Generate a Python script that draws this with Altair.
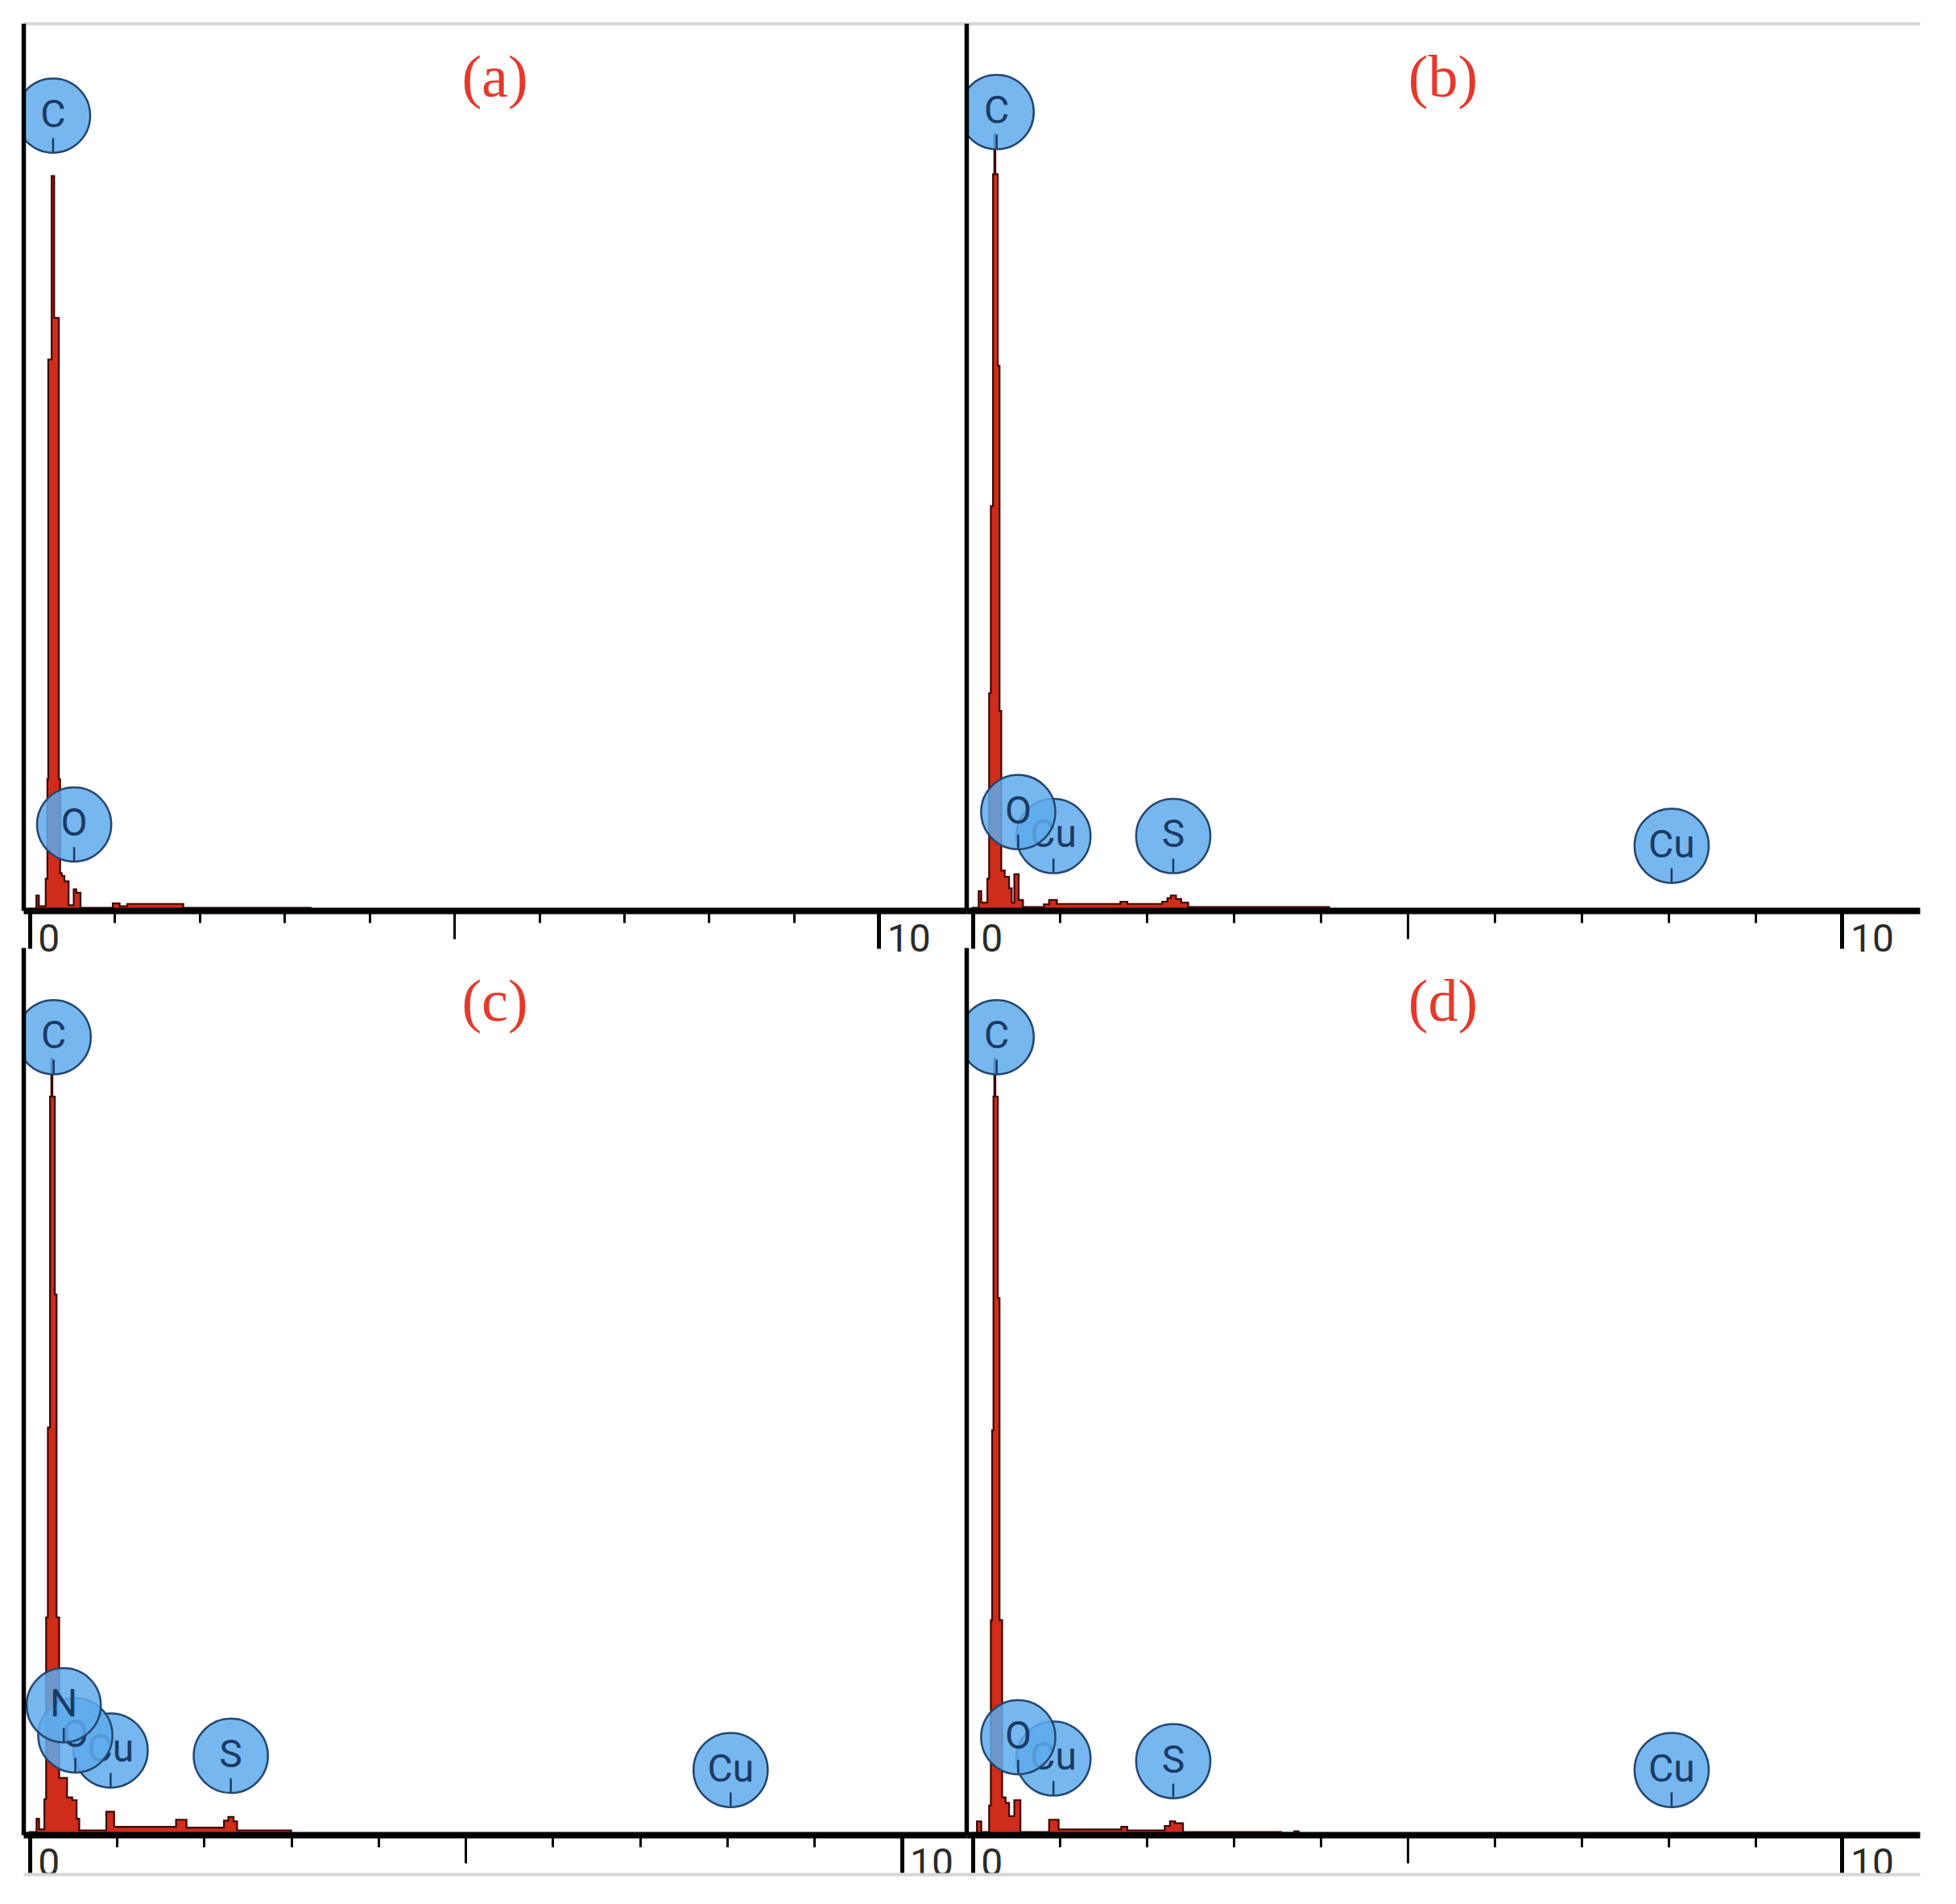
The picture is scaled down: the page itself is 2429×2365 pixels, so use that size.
import altair as alt
import pandas as pd

# ---------------- data ----------------
# spectra: left bin edge energy (keV) and counts (arbitrary, 1000 = top of panel)
A_KEV = [0.00, 0.08, 0.11, 0.19, 0.21, 0.22, 0.26, 0.29, 0.345, 0.36, 0.38, 0.41, 0.46, 0.52, 0.55, 0.60,
         0.98, 1.06, 1.15, 1.81, 3.31]
A_CNT = [2, 17, 5, 36, 148, 621, 828, 668, 148, 42, 39, 33, 6, 24, 20, 3,
         8, 5, 7.5, 3, 0]

B_KEV = [0.00, 0.07, 0.10, 0.17, 0.19, 0.21, 0.235, 0.25, 0.262, 0.29, 0.31, 0.33, 0.37, 0.42, 0.45,
         0.48, 0.53, 0.58, 0.82, 0.88, 0.97, 1.70, 1.78, 2.18, 2.24, 2.28, 2.34, 2.40, 2.48, 4.10]
B_CNT = [3, 22, 9, 36, 245, 456, 830, 875, 830, 614, 225, 45, 38, 25, 9,
         41, 12, 4, 7, 12, 7.5, 10, 7.5, 10, 14, 17, 13, 9, 4, 0]

C_KEV = [0.00, 0.08, 0.11, 0.17, 0.19, 0.21, 0.235, 0.25, 0.262, 0.29, 0.31, 0.34, 0.43, 0.49, 0.54,
         0.57, 0.88, 0.97, 1.68, 1.80, 2.23, 2.28, 2.34, 2.38, 3.00]
C_CNT = [3, 18, 6, 40, 245, 459, 832, 875, 832, 609, 245, 64, 42, 39, 18,
         5, 26, 9, 17, 8, 16, 20, 15, 5, 0]

D_KEV = [0.00, 0.05, 0.10, 0.19, 0.21, 0.225, 0.24, 0.25, 0.262, 0.29, 0.31, 0.34, 0.38, 0.42, 0.48,
         0.55, 0.88, 0.99, 1.71, 1.78, 2.21, 2.27, 2.33, 2.42, 3.55, 3.70, 3.75]
D_CNT = [2, 15, 3, 33, 242, 456, 832, 875, 832, 605, 242, 42, 36, 21, 39,
         3, 17, 6, 9, 5, 10, 15, 13, 3, 2, 4, 0]

# element markers: label, line energy (keV), marker height (counts)
A_EL = ["C", "O"]
A_EL_KEV = [0.277, 0.525]
A_EL_POS = [896, 97]

B_EL = ["C", "O", "Cu", "S", "Cu"]
B_EL_KEV = [0.277, 0.525, 0.930, 2.308, 8.040]
B_EL_POS = [900, 111, 84, 84, 73]

C_EL = ["C", "N", "O", "Cu", "S", "Cu"]
C_EL_KEV = [0.277, 0.392, 0.525, 0.930, 2.308, 8.040]
C_EL_POS = [899, 146, 112, 95, 89, 73]

D_EL = ["C", "O", "Cu", "S", "Cu"]
D_EL_KEV = [0.277, 0.525, 0.930, 2.308, 8.040]
D_EL_POS = [899, 110, 86, 83, 73]

PANEL_LABELS = ["(a)", "(b)", "(c)", "(d)"]
X_DOMAINS = [[-0.073, 11.03], [-0.072, 10.894], [-0.071, 10.743], [-0.072, 10.894]]
TICK_VALUES = list(range(11))

# ---------------- styling ----------------
W_LEFT, W_RIGHT, H = 1171, 1184, 1102
RED = "#cf2c1a"
BLUE = "#5eaaec"
NAVY = "#1b3a63"

Y_AXIS = alt.Axis(title=None, grid=False, ticks=False, labels=False,
                  domainColor="black", domainWidth=5.5, zindex=1)


def main_x_axis():
    return alt.Axis(
        values=TICK_VALUES, orient="bottom", title=None, grid=False, zindex=1,
        domainColor="black", domainWidth=8,
        tickColor="black",
        tickSize={"condition": [{"test": "datum.value == 0 || datum.value == 10", "value": 47},
                                {"test": "datum.value == 5", "value": 35}], "value": 15},
        tickWidth={"condition": [{"test": "datum.value == 0 || datum.value == 10", "value": 5}],
                   "value": 3},
        labelExpr="datum.value == 0 || datum.value == 10 ? datum.label : ''",
        labelAlign="left", labelBaseline="top", labelOffset=10, labelPadding=-35,
        labelFont="Roboto", labelFontSize=48, labelColor="#2a2a2a",
        labelOverlap=False, labelFlush=False,
    )


def frame_axis(top):
    if top:
        return alt.Axis(orient="top", title=None, grid=False, ticks=False, labels=False,
                        domainColor="#d6d6d6", domainWidth=4, zindex=1)
    return alt.Axis(orient="bottom", offset=49, title=None, grid=False, ticks=False, labels=False,
                    domainColor="#d6d6d6", domainWidth=4, zindex=1)


def panel(label, kev, cnt, els, el_kev, el_pos, xdom, width, top):
    spec_df = pd.DataFrame({"keV": kev, "counts": cnt})
    el_df = pd.DataFrame({"el": els, "keV": el_kev, "counts": el_pos, "idx": list(range(len(els)))})
    lab_df = pd.DataFrame({"t": [label]})
    xs = alt.Scale(domain=xdom, nice=False, zero=False)
    ys = alt.Scale(domain=[0, 1000], nice=False)

    spectrum = alt.Chart(spec_df).mark_area(
        interpolate="step-after", fill=RED, stroke="#3d0701", strokeWidth=2.2, clip=True
    ).encode(
        x=alt.X("keV:Q", scale=xs, axis=main_x_axis()),
        y=alt.Y("counts:Q", scale=ys, stack=None, axis=Y_AXIS),
    )
    frame = alt.Chart(spec_df).mark_point(opacity=0).encode(
        x=alt.X("keV:Q", scale=xs, axis=frame_axis(top)),
        y=alt.Y("counts:Q", scale=ys, axis=Y_AXIS),
    )
    layers = [spectrum, frame]
    base = alt.Chart(el_df)
    for i in reversed(range(len(els))):
        sub = base.transform_filter(alt.datum.idx == i)
        circ = sub.mark_circle(size=8500, fill=BLUE, fillOpacity=0.85, stroke="#24466e",
                               strokeWidth=2.5, opacity=1, clip=True).encode(
            x=alt.X("keV:Q", scale=xs, axis=None),
            y=alt.Y("counts:Q", scale=ys, axis=Y_AXIS),
        )
        tick = sub.mark_rule(color=NAVY, strokeWidth=2.5, yOffset=28, y2Offset=45, clip=True).encode(
            x=alt.X("keV:Q", scale=xs, axis=None),
            y=alt.Y("counts:Q", scale=ys, axis=Y_AXIS),
            y2="counts:Q",
        )
        txt = sub.mark_text(font="Roboto", fontSize=48, color=NAVY, align="center",
                            baseline="middle", clip=True, dy=0).encode(
            x=alt.X("keV:Q", scale=xs, axis=None),
            y=alt.Y("counts:Q", scale=ys, axis=Y_AXIS),
            text="el:N",
        )
        layers += [circ, tick, txt]

    title = alt.Chart(lab_df).mark_text(
        font="Liberation Serif", fontSize=74, color="#e5392b", align="center", baseline="alphabetic"
    ).encode(x=alt.value(width / 2), y=alt.value(91), text="t:N")
    layers.append(title)

    return alt.layer(*layers).resolve_axis(x="independent").properties(width=width, height=H)


pa = panel(PANEL_LABELS[0], A_KEV, A_CNT, A_EL, A_EL_KEV, A_EL_POS, X_DOMAINS[0], W_LEFT, True)
pb = panel(PANEL_LABELS[1], B_KEV, B_CNT, B_EL, B_EL_KEV, B_EL_POS, X_DOMAINS[1], W_RIGHT, True)
pc = panel(PANEL_LABELS[2], C_KEV, C_CNT, C_EL, C_EL_KEV, C_EL_POS, X_DOMAINS[2], W_LEFT, False)
pd_ = panel(PANEL_LABELS[3], D_KEV, D_CNT, D_EL, D_EL_KEV, D_EL_POS, X_DOMAINS[3], W_RIGHT, False)

chart = alt.concat(pa, pb, pc, pd_, columns=2, spacing={"row": 46, "column": 0}, bounds="flush").properties(
    padding={"left": 21, "top": 21, "right": 30, "bottom": 20},
    background="white",
).configure_view(stroke=None)

chart.save("out.html", embed_options={"renderer": "svg", "actions": False})
